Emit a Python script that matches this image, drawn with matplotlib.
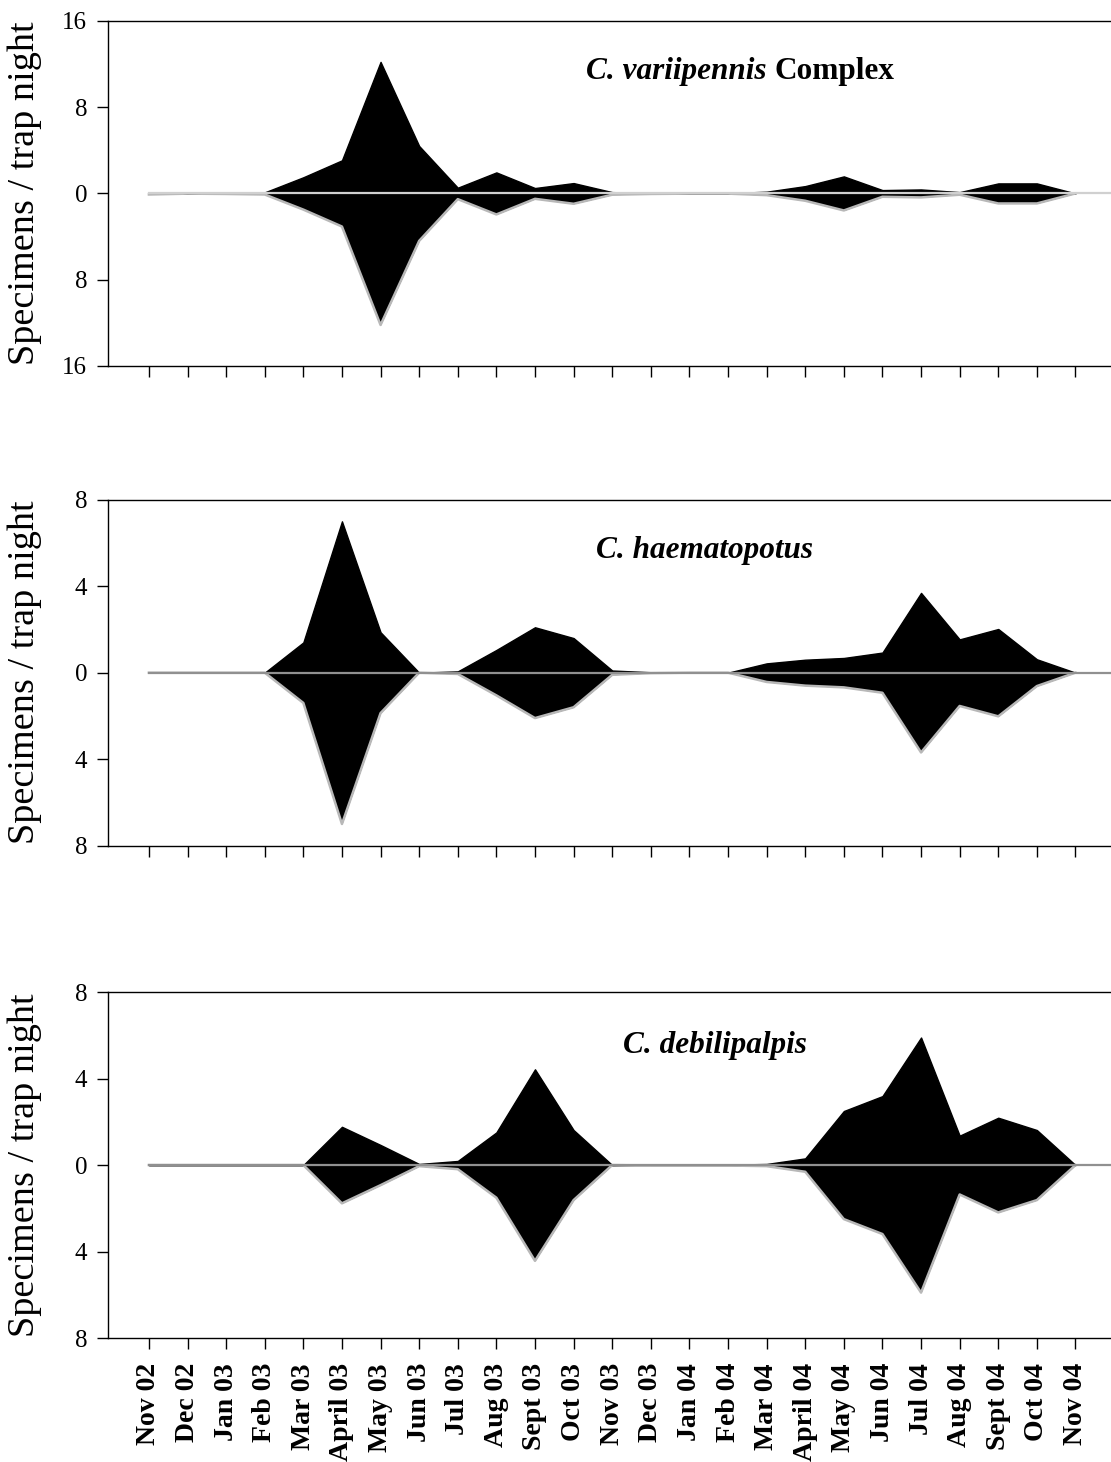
import numpy as np
import matplotlib.pyplot as plt

months = ['Nov 02', 'Dec 02', 'Jan 03', 'Feb 03', 'Mar 03', 'April 03', 'May 03',
          'Jun 03', 'Jul 03', 'Aug 03', 'Sept 03', 'Oct 03', 'Nov 03', 'Dec 03',
          'Jan 04', 'Feb 04', 'Mar 04', 'April 04', 'May 04', 'Jun 04', 'Jul 04',
          'Aug 04', 'Sept 04', 'Oct 04', 'Nov 04']

# specimens / trap night
variipennis = [0.1, 0.02, 0.05, 0.1, 1.5, 3.07, 12.2, 4.4, 0.53, 1.95, 0.5, 0.96, 0.12,
               0.05, 0.02, 0.02, 0.16, 0.68, 1.58, 0.31, 0.37, 0.12, 0.93, 0.93, 0.0]
haematopotus = [0.0, 0.0, 0.0, 0.0, 1.4, 7.0, 1.87, 0.0, 0.06, 1.05, 2.1, 1.6, 0.1,
                0.02, 0.0, 0.0, 0.43, 0.6, 0.68, 0.93, 3.69, 1.54, 2.02, 0.62, 0.0]
debilipalpis = [0.0, 0.0, 0.0, 0.0, 0.0, 1.77, 0.93, 0.05, 0.19, 1.51, 4.43, 1.62, 0.0,
                0.02, 0.02, 0.02, 0.05, 0.31, 2.5, 3.19, 5.9, 1.36, 2.19, 1.62, 0.0]

plt.rcParams['font.family'] = ['Liberation Serif', 'DejaVu Serif']

fig = plt.figure(figsize=(11.11, 14.62), dpi=100)

panels = [
    (variipennis, 16, [0.0972, 0.7497, 0.9028, 0.2360], '#d0d0d0', 'C. variipennis ', 'Complex', (11.32, 10.6)),
    (haematopotus, 8, [0.0972, 0.4216, 0.9028, 0.2366], '#909090', 'C. haematopotus', None, (11.58, 5.3)),
    (debilipalpis, 8, [0.0972, 0.0848, 0.9028, 0.2366], '#909090', 'C. debilipalpis', None, (12.28, 5.2)),
]

x = np.arange(len(months))

for i, (vals, lim, pos, zcol, name, extra, tpos) in enumerate(panels):
    ax = fig.add_axes(pos)
    v = np.array(vals)
    ax.fill_between(x, 0, v, color='black', edgecolor='black', linewidth=1.0, zorder=2)
    ax.fill_between(x, -v, 0, color='black', linewidth=0, zorder=2)
    ax.plot(x, -v, color='#b8b8b8', linewidth=1.8, zorder=3)
    ax.plot([0, 25], [0, 0], color=zcol, linewidth=1.6, zorder=4)

    ax.set_xlim(-1.06, 24.92)
    ax.set_ylim(-lim, lim)
    ticks = [-lim, -lim / 2, 0, lim / 2, lim]
    ax.set_yticks(ticks)
    ax.set_yticklabels([str(int(abs(t))) for t in ticks])
    ax.set_xticks(x)
    if i == 2:
        ax.set_xticklabels(months, rotation=90, fontweight='bold', fontsize=20)
    else:
        ax.set_xticklabels([])
    ax.tick_params(axis='y', direction='out', length=8, width=1, labelsize=18, pad=7)
    ax.tick_params(axis='x', direction='out', length=8, width=1, pad=10)
    ax.spines['right'].set_visible(False)
    for s in ['left', 'top', 'bottom']:
        ax.spines[s].set_linewidth(1.0)

    ax.set_ylabel('Specimens / trap night', fontsize=27.5)
    ax.yaxis.set_label_coords(-0.066, 0.5)

    t1 = ax.text(tpos[0], tpos[1], name, fontsize=22.5, fontweight='bold',
                 fontstyle='italic', ha='left', va='baseline')
    if extra:
        ax.annotate(extra, xy=(1, 0), xycoords=t1, fontsize=22.5, fontweight='bold',
                    ha='left', va='bottom')

fig.savefig('out.png', dpi=100)
